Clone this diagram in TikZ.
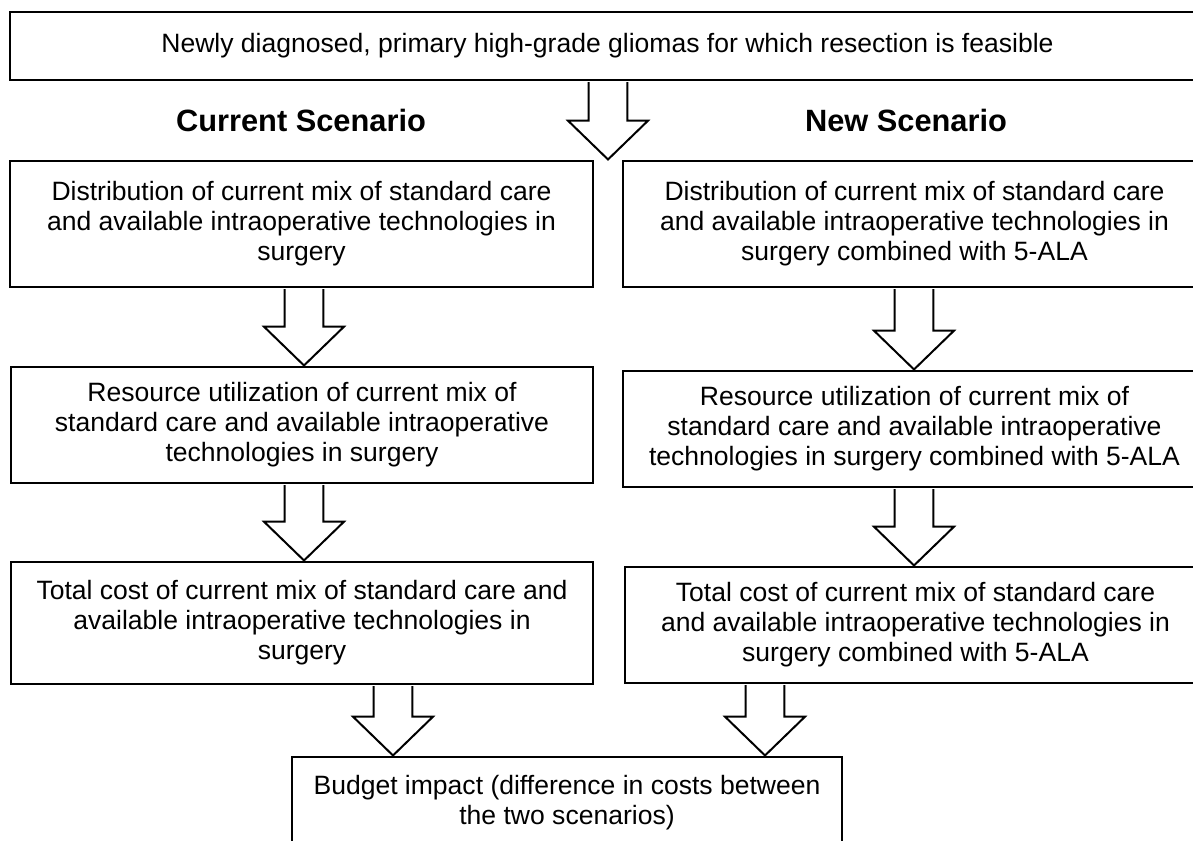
\documentclass[tikz,border=0pt]{standalone}
\usepackage{fontspec}
\setmainfont{Liberation Sans}
\usetikzlibrary{calc}
\newcommand\blockarrow[2]{%
  \draw[barrow] let \p1=(#1), \p2=(#2) in
    (\x1-14.6pt,\y1-0.75pt) -- (\x1-14.6pt,\y2+29.5pt) -- (\x1-30pt,\y2+29.5pt)
    -- (\x1,\y2+0.4pt) -- (\x1+30pt,\y2+29.5pt) -- (\x1+14.6pt,\y2+29.5pt)
    -- (\x1+14.6pt,\y1-0.75pt);}
\begin{document}
\begin{tikzpicture}[x=0.75pt,y=-0.75pt,
  box/.style={draw, line width=1.5pt, fill=white, inner sep=0pt, align=center,
    font=\fontsize{19.9pt}{22.5pt}\selectfont},
  head/.style={font=\bfseries\fontsize{23.1pt}{26pt}\selectfont, inner sep=0pt},
  barrow/.style={draw, line width=1.5pt, fill=white, line join=miter}]
\useasboundingbox (0,0) rectangle (1193,840);
\fill[white] (0,0) rectangle (1193,840);
\clip (0,0) rectangle (1193,840);

\node[box, minimum width=1195*0.75pt, minimum height=68*0.75pt] (top) at (607.5,46)
  {Newly diagnosed, primary high-grade gliomas for which resection is feasible};

\node[head] (hL) at (301,120) {Current Scenario};
\node[head] (hR) at (906,120) {New Scenario};

\node[box, minimum width=583*0.75pt, minimum height=126*0.75pt] (L1) at (301.5,224)
  {Distribution of current mix of standard care\\and available intraoperative technologies in\\surgery};
\node[box, minimum width=583*0.75pt, minimum height=126*0.75pt] (R1) at (914.5,224)
  {Distribution of current mix of standard care\\and available intraoperative technologies in\\surgery combined with 5-ALA};

\node[box, minimum width=582*0.75pt, minimum height=116*0.75pt] (L2) at (302,425)
  {Resource utilization of current mix of\\standard care and available intraoperative\\technologies in surgery};
\node[box, minimum width=583*0.75pt, minimum height=116*0.75pt] (R2) at (914.5,429)
  {Resource utilization of current mix of\\standard care and available intraoperative\\technologies in surgery combined with 5-ALA};

\node[box, minimum width=582*0.75pt, minimum height=122*0.75pt] (L3) at (302,623)
  {Total cost of current mix of standard care and\\available intraoperative technologies in\\surgery};
\node[box, minimum width=581*0.75pt, minimum height=116*0.75pt] (R3) at (915.5,625)
  {Total cost of current mix of standard care\\and available intraoperative technologies in\\surgery combined with 5-ALA};

\node[box, minimum width=550*0.75pt, minimum height=91*0.75pt] (B) at (567,802.5)
  {Budget impact (difference in costs between\\the two scenarios)};

\coordinate (x0) at (608,0);
\coordinate (xl) at (304,0);
\coordinate (xr) at (914,0);
\coordinate (xl3) at (393,0);
\coordinate (xr3) at (765,0);

\blockarrow{top.south -| x0}{L1.north -| x0}
\blockarrow{L1.south -| xl}{L2.north -| xl}
\blockarrow{R1.south -| xr}{R2.north -| xr}
\blockarrow{L2.south -| xl}{L3.north -| xl}
\blockarrow{R2.south -| xr}{R3.north -| xr}
\blockarrow{L3.south -| xl3}{B.north -| xl3}
\blockarrow{R3.south -| xr3}{B.north -| xr3}
\end{tikzpicture}
\end{document}
